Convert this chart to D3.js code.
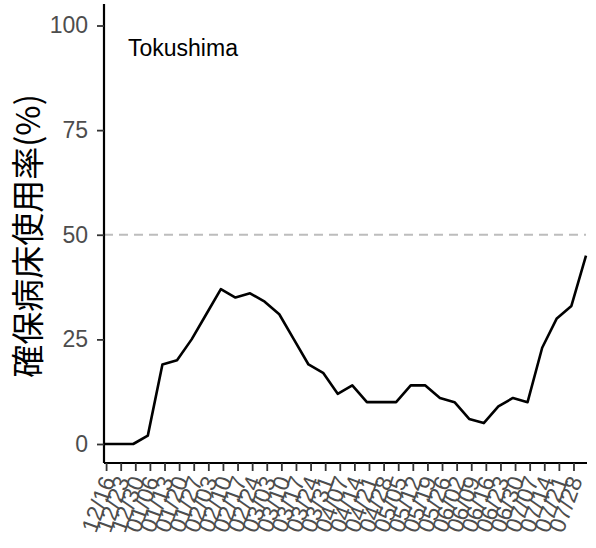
<!DOCTYPE html>
<html><head><meta charset="utf-8">
<script src="https://cdn.jsdelivr.net/npm/d3@7"></script>
<style>body{margin:0;background:#fff}</style>
</head><body>
<svg id="c" width="596" height="548"></svg>
<script>
const prefecture = "Tokushima";
const yTitle = "確保病床使用率(%)";
const startDate = "2020-12-15";
const values = [0,0,0,2,19,20,25,31,37,35,36,34,31,25,19,17,12,14,10,10,10,14,14,11,10,6,5,9,11,10,23,30,33,45];
const tickStart = "2020-12-16";
const tickCount = 33;
const yTicks = [0,25,50,75,100];
const threshold = 50;

const parse = d3.timeParse("%Y-%m-%d");
const d0 = parse(startDate);
const data = values.map((v,i)=>({date:d3.timeDay.offset(d0,i*7), v}));
const t0 = parse(tickStart);
const tickDates = d3.range(tickCount).map(i=>d3.timeDay.offset(t0,i*7));

const svg = d3.select("#c");
const L=104, R=586, T=4, B=463;
const x = d3.scaleTime().domain(d3.extent(data,d=>d.date)).range([L,R]);
const y = d3.scaleLinear().domain([0,100]).range([444,25.5]);
const font = "Liberation Sans, Arial, sans-serif";

// dashed threshold
svg.append("line").attr("x1",L).attr("x2",R).attr("y1",y(threshold)).attr("y2",y(threshold))
  .attr("stroke","#bdbdbd").attr("stroke-width",1.8).attr("stroke-dasharray","9,6");

// y axis
const ya = svg.append("g").attr("transform",`translate(${L},0)`)
  .call(d3.axisLeft(y).tickValues(yTicks).tickSize(7).tickPadding(9));
ya.select(".domain").attr("d",`M0,${T}V${B}`).attr("stroke","#000").attr("stroke-width",2.2);
ya.selectAll(".tick line").attr("stroke","#333").attr("stroke-width",1.8);
ya.selectAll(".tick text").attr("font-family",font).attr("font-size",23).attr("fill","#4d4d4d");

// x axis
const xa = svg.append("g").attr("transform",`translate(0,${B})`)
  .call(d3.axisBottom(x).tickValues(tickDates).tickFormat(d3.timeFormat("%m/%d")).tickSize(8));
xa.select(".domain").attr("d",`M${L},0H${R+1}`).attr("stroke","#000").attr("stroke-width",2.2);
xa.selectAll(".tick line").attr("stroke","#333").attr("stroke-width",1.8);
xa.selectAll(".tick text").attr("font-family",font).attr("font-size",23).attr("fill","#4d4d4d")
  .attr("text-anchor","end").attr("dy",0).attr("y",0)
  .attr("transform","translate(9,17) rotate(-70)");

// line
svg.append("path").datum(data)
  .attr("d",d3.line().x(d=>x(d.date)).y(d=>y(d.v)))
  .attr("fill","none").attr("stroke","#000").attr("stroke-width",2.6).attr("stroke-linejoin","round");

// label
svg.append("text").attr("x",128).attr("y",56).text(prefecture)
  .attr("font-family",font).attr("font-size",23).attr("fill","#000");

// y title
svg.append("text").attr("transform",`translate(40,236) rotate(-90)`).attr("text-anchor","middle")
  .attr("font-family","Noto Sans CJK JP, sans-serif").attr("font-size",33).attr("fill","#000").text(yTitle);
</script>
</body></html>
